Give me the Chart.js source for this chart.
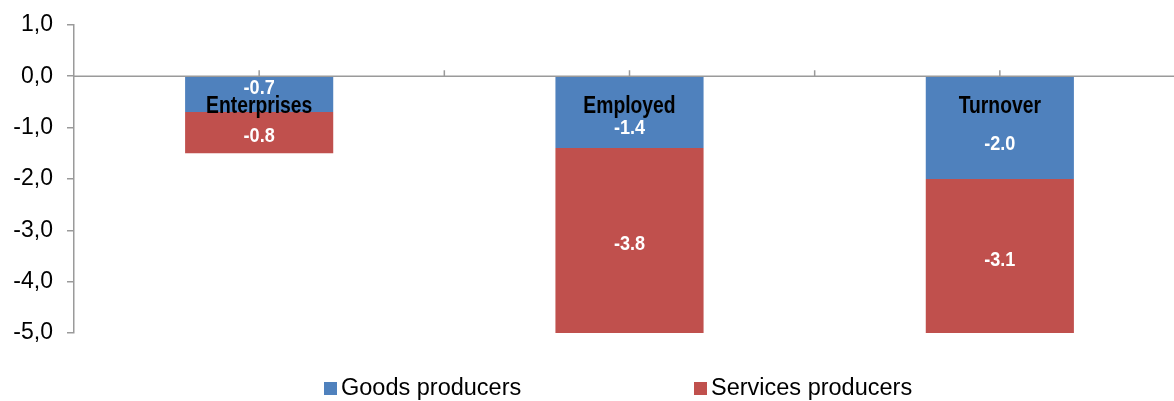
<!DOCTYPE html>
<html>
<head>
<meta charset="utf-8">
<script src="https://cdn.jsdelivr.net/npm/chart.js@4.4.1/dist/chart.umd.min.js"></script>
<style>
  html, body { margin: 0; padding: 0; background: #fff; }
  #wrap { width: 1174px; height: 401px; }
</style>
</head>
<body>
<div id="wrap"><canvas id="bars"></canvas></div>
<script>
var categories = ['Enterprises', 'Employed', 'Turnover'];
var goodsValues = [-0.7, -1.4, -2.0];
var servicesValues = [-0.8, -3.8, -3.1];
var seriesNames = ['Goods producers', 'Services producers'];

var axisGray = '#9a9a9a';
var sans = '"Liberation Sans", Arial, sans-serif';

// condensed text, like Arial Narrow
function narrowText(c, txt, x, y, font, color, sx) {
    c.save();
    c.font = font;
    c.fillStyle = color;
    c.textAlign = 'center';
    c.textBaseline = 'middle';
    c.translate(x, y);
    c.scale(sx, 1);
    c.fillText(txt, 0, 0);
    c.restore();
}

// the category axis runs a little past the right edge of the canvas,
// and the value axis starts a bit higher than the layout gives
var adjustArea = {
    id: 'adjustArea',
    afterLayout: function (chart) {
        var s = chart.scales.x;
        s.right += 11;
        s.width += 11;
        s.configure();
        var v = chart.scales.y;
        v.top -= 3;
        v.height += 3;
        v.configure();
        chart.chartArea.top -= 3;
        chart.chartArea.height += 3;
    }
};

// zero line with small tick marks, category names, value labels and legend
var decorations = {
    id: 'decorations',
    beforeDatasetsDraw: function (chart) {
        var c = chart.ctx, x = chart.scales.x, y = chart.scales.y;
        var y0 = y.getPixelForValue(0);
        c.save();
        c.strokeStyle = axisGray;
        c.lineWidth = 1.5;
        c.beginPath();
        c.moveTo(chart.chartArea.left, y0);
        c.lineTo(chart.width, y0);
        var step = x.getPixelForValue(1) - x.getPixelForValue(0);
        for (var i = 0; i < categories.length; i++) {
            var cx = x.getPixelForValue(i);
            c.moveTo(cx, y0); c.lineTo(cx, y0 - 6);
            c.moveTo(cx + step / 2, y0); c.lineTo(cx + step / 2, y0 - 6);
        }
        c.stroke();
        c.restore();
    },
    afterDatasetsDraw: function (chart) {
        var c = chart.ctx, y = chart.scales.y;
        var top = chart.chartArea.top, bottom = chart.chartArea.bottom;
        chart.data.datasets.forEach(function (ds, di) {
            var meta = chart.getDatasetMeta(di);
            meta.data.forEach(function (bar, i) {
                var a = Math.max(top, Math.min(bottom, bar.base));
                var b = Math.max(top, Math.min(bottom, bar.y));
                var h = Math.abs(b - a);
                var mid = (a + b) / 2;
                if (di === 0) mid += (h > 50 ? 16 : -6);
                else mid += 4;
                narrowText(c, ds.data[i].toFixed(1), bar.x, mid, 'bold 21px ' + sans, '#ffffff', 0.86);
            });
        });
        var y0 = y.getPixelForValue(0);
        chart.getDatasetMeta(0).data.forEach(function (bar, i) {
            narrowText(c, categories[i], bar.x, y0 + 30, 'bold 23px ' + sans, '#000000', 0.84);
        });

        // legend
        var lx = [324, 694], ly = 389;
        c.save();
        c.font = '23.5px ' + sans;
        c.textBaseline = 'middle';
        c.textAlign = 'left';
        chart.data.datasets.forEach(function (ds, di) {
            c.fillStyle = ds.backgroundColor;
            c.fillRect(lx[di], ly - 7, 13, 13);
            c.fillStyle = '#000';
            c.fillText(ds.label, lx[di] + 17, ly);
        });
        c.restore();
    }
};

new Chart(document.getElementById('bars').getContext('2d'), {
    type: 'bar',
    data: {
        labels: categories,
        datasets: [{
            label: seriesNames[0],
            data: goodsValues,
            backgroundColor: '#4f81bd',
            borderWidth: 0,
            barPercentage: 0.4,
            categoryPercentage: 1
        }, {
            label: seriesNames[1],
            data: servicesValues,
            backgroundColor: '#c0504d',
            borderWidth: 0,
            barPercentage: 0.4,
            categoryPercentage: 1
        }]
    },
    options: {
        responsive: true,
        maintainAspectRatio: false,
        animation: false,
        layout: { padding: { top: 19, right: 0, bottom: 68, left: 0 } },
        plugins: {
            legend: { display: false },
            tooltip: { enabled: false }
        },
        scales: {
            x: {
                stacked: true,
                display: false
            },
            y: {
                stacked: true,
                min: -5,
                max: 1,
                afterFit: function (s) { s.width = 74; },
                ticks: {
                    stepSize: 1,
                    color: '#000',
                    font: { size: 23, family: sans },
                    padding: 14,
                    callback: function (v) { return v.toFixed(1).replace('.', ','); }
                },
                grid: {
                    drawOnChartArea: false,
                    tickLength: 7,
                    color: axisGray,
                    lineWidth: 1.5
                },
                border: { color: axisGray, width: 1.5 }
            }
        }
    },
    plugins: [adjustArea, decorations]
});
</script>
</body>
</html>
